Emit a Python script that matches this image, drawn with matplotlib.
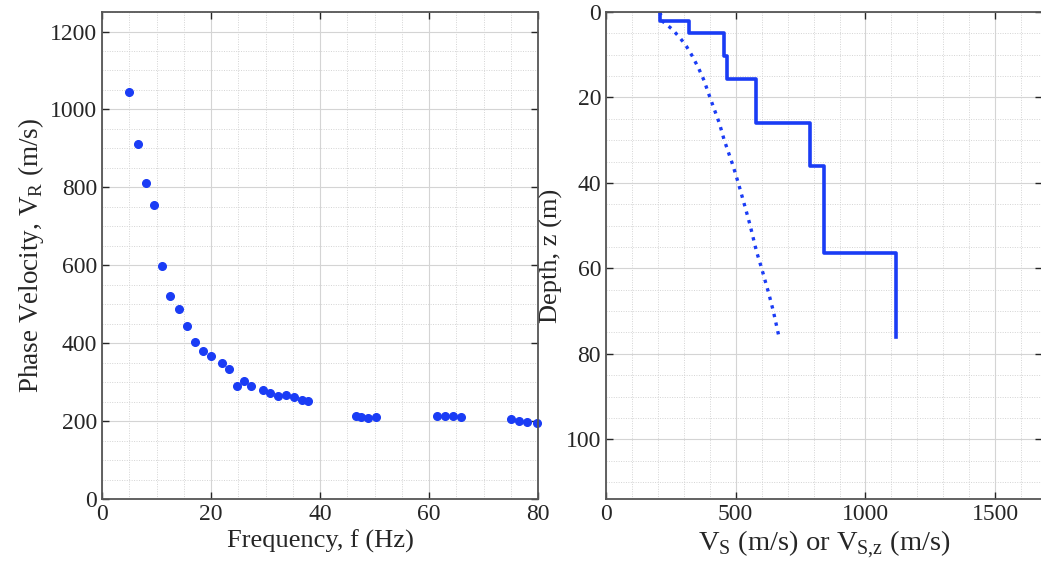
import matplotlib
matplotlib.use("Agg")
import matplotlib.pyplot as plt
from matplotlib.ticker import MultipleLocator

plt.rcParams["font.family"] = ["Liberation Serif", "DejaVu Serif"]
plt.rcParams["mathtext.fontset"] = "custom"
plt.rcParams["mathtext.rm"] = "Liberation Serif"

BLUE = "#1a3cf5"

# dispersion curve (left panel)
freq_hz = [5.0, 6.55, 8.07, 9.6, 11.07, 12.5, 14.1, 15.6, 17.1, 18.6, 20.0,
           22.0, 23.3, 24.8, 26.1, 27.3, 29.5, 30.8, 32.3, 33.8, 35.2, 36.7, 37.8,
           46.6, 47.5, 48.8, 50.3, 61.5, 62.9, 64.4, 65.9, 75.0, 76.5, 78.0, 79.8]
phase_vel = [1044, 912, 811, 755, 598, 522, 489, 443, 402, 379, 366,
             348, 335, 291, 304, 291, 281, 273, 265, 268, 263, 255, 252,
             214, 211, 209, 211, 214, 214, 214, 211, 206, 201, 198, 196]

# layered Vs profile (right panel)
layer_top = [0, 2.0, 5.0, 10.2, 15.7, 26.0, 36.1, 56.3]
layer_bot = [2.0, 5.0, 10.2, 15.7, 26.0, 36.1, 56.3, 76.1]
layer_vs = [209, 321, 455, 465, 577, 786, 841, 1117]

# time-averaged Vs,z (dotted)
vsz_depth = [0, 2, 4, 6, 8, 10, 13, 16, 20, 26, 30, 36, 40, 46, 50, 56, 60, 66, 70, 76.1]
vsz_vel = [209, 215, 255, 285, 310, 330, 356, 378, 401, 437, 456, 490, 510, 538, 556, 580, 600, 628, 645, 667]


def style_axes(ax):
    ax.grid(True, which="major", color="#d4d4d4", lw=0.8, ls="-")
    ax.grid(True, which="minor", color="#d4d4d4", lw=0.7, ls=(0, (1, 1.5)))
    ax.set_axisbelow(True)
    ax.tick_params(which="both", direction="in", top=True, right=True,
                   labelsize=17, colors="#262626")
    ax.tick_params(which="major", length=5, width=1.0)
    ax.tick_params(which="minor", length=0)
    for sp in ax.spines.values():
        sp.set_color("#555555")
        sp.set_linewidth(1.3)


fig = plt.figure(figsize=(10.41, 5.73), dpi=100)
ax1 = fig.add_axes([0.098, 0.129, 0.419, 0.850])
ax2 = fig.add_axes([0.582, 0.129, 0.419, 0.850])

ax1.plot(freq_hz, phase_vel, "o", color=BLUE, ms=5.5, clip_on=False)
ax1.set_xlim(0, 80)
ax1.set_ylim(0, 1250)
ax1.xaxis.set_major_locator(MultipleLocator(20))
ax1.xaxis.set_minor_locator(MultipleLocator(5))
ax1.yaxis.set_major_locator(MultipleLocator(200))
ax1.yaxis.set_minor_locator(MultipleLocator(50))
ax1.set_xlabel("Frequency, f (Hz)", fontsize=19, color="#262626", labelpad=3)
ax1.set_ylabel(r"Phase Velocity, V$_\mathregular{R}$ (m/s)", fontsize=19.5, color="#262626", labelpad=3)
style_axes(ax1)

# step profile
xs, ys = [], []
for top, bot, v in zip(layer_top, layer_bot, layer_vs):
    xs += [v, v]
    ys += [top, bot]
ax2.plot(xs, ys, "-", color=BLUE, lw=2.6)
ax2.plot(vsz_vel, vsz_depth, ":", color=BLUE, lw=2.4)
ax2.set_xlim(0, 1680)
ax2.set_ylim(114, 0)
ax2.xaxis.set_major_locator(MultipleLocator(500))
ax2.xaxis.set_minor_locator(MultipleLocator(100))
ax2.yaxis.set_major_locator(MultipleLocator(20))
ax2.yaxis.set_minor_locator(MultipleLocator(5))
ax2.set_xlabel(r"V$_\mathregular{S}$ (m/s) or V$_\mathregular{S{,}z}$ (m/s)", fontsize=20.5, color="#262626", labelpad=3)
ax2.set_ylabel("Depth, z (m)", fontsize=19, color="#262626", labelpad=2)
style_axes(ax2)

fig.savefig("out.png", dpi=100)
